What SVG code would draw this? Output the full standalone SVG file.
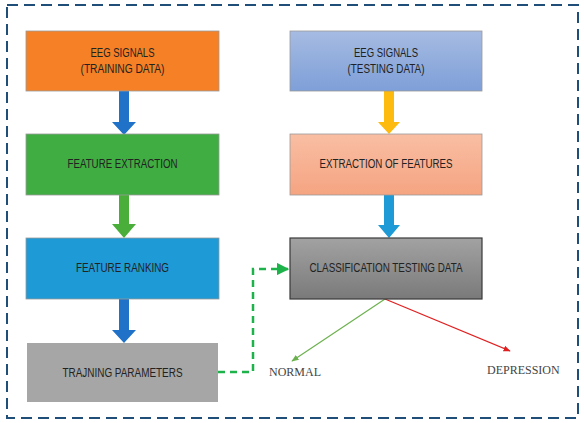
<svg xmlns="http://www.w3.org/2000/svg" width="584" height="423" viewBox="0 0 584 423">
<style>
.box{stroke:#9a9a9a;stroke-width:0.8}
.t{font-family:"Liberation Sans",Arial,sans-serif;font-size:12px;fill:#222;text-anchor:middle}
.o{font-family:"Liberation Serif","Times New Roman",serif;font-size:12px;fill:#444}
</style>
<defs>
<linearGradient id="gBlue" x1="0" y1="0" x2="0" y2="1"><stop offset="0" stop-color="#a6bbe2"/><stop offset="1" stop-color="#7e9fd8"/></linearGradient>
<linearGradient id="gSalmon" x1="0" y1="0" x2="0" y2="1"><stop offset="0" stop-color="#f9bea3"/><stop offset="1" stop-color="#f5a481"/></linearGradient>
<linearGradient id="gGray" x1="0" y1="0" x2="0" y2="1"><stop offset="0" stop-color="#a2a2a2"/><stop offset="1" stop-color="#7a7a7a"/></linearGradient>
<marker id="mG" viewBox="0 0 10 10" refX="9" refY="5" markerWidth="5" markerHeight="5" orient="auto"><path d="M0,0L10,5L0,10z" fill="#1db34a"/></marker>
<marker id="mL" viewBox="0 0 10 10" refX="9" refY="5" markerWidth="6" markerHeight="6" orient="auto"><path d="M0,1L10,5L0,9z" fill="#6ab04c"/></marker>
<marker id="mR" viewBox="0 0 10 10" refX="9" refY="5" markerWidth="6" markerHeight="6" orient="auto"><path d="M0,1L10,5L0,9z" fill="#e02020"/></marker>
</defs>
<rect x="7" y="5" width="571" height="413" fill="none" stroke="#1f4e79" stroke-width="2" stroke-dasharray="11 6"/>
<g id="connectors">
<path d="M119,91V122H112L124,135L136,122H129V91z" fill="#1f72c8"/>
<path d="M119,195V224H112L124,238L136,224H129V195z" fill="#4aae3a"/>
<path d="M119,299V330H112L124,343L136,330H129V299z" fill="#1f72c8"/>
<path d="M384,91V122H378L389,134L400,122H394V91z" fill="#fdbb10"/>
<path d="M384,195V225H378L389,238L400,225H394V195z" fill="#1e9ad6"/>
<path d="M218,372H253V269H288" fill="none" stroke="#1db34a" stroke-width="2.5" stroke-dasharray="7 5" marker-end="url(#mG)"/>
<line x1="385" y1="299" x2="292" y2="361" stroke="#6ab04c" stroke-width="1.2" marker-end="url(#mL)"/>
<line x1="385" y1="299" x2="510" y2="351" stroke="#e02020" stroke-width="1.2" marker-end="url(#mR)"/>
</g>
<g id="train-eeg"><rect class="box" x="26" y="31" width="193" height="60" fill="#f58025"/><text class="t" x="122.5" y="57" textLength="64" lengthAdjust="spacingAndGlyphs">EEG SIGNALS</text><text class="t" x="122.5" y="73" textLength="84" lengthAdjust="spacingAndGlyphs">(TRAINING DATA)</text></g>
<g id="feature-extraction"><rect class="box" x="26" y="134" width="193" height="61" fill="#40ad42"/><text class="t" x="122.5" y="168" textLength="110" lengthAdjust="spacingAndGlyphs">FEATURE EXTRACTION</text></g>
<g id="feature-ranking"><rect class="box" x="26" y="238" width="193" height="61" fill="#1e9ad6"/><text class="t" x="122.5" y="272" textLength="93" lengthAdjust="spacingAndGlyphs">FEATURE RANKING</text></g>
<g id="training-params"><rect x="27" y="343" width="191" height="59" fill="#a6a6a6"/><text class="t" x="122.5" y="377" textLength="120" lengthAdjust="spacingAndGlyphs">TRAJNING PARAMETERS</text></g>
<g id="test-eeg"><rect class="box" x="290" y="31" width="192" height="60" fill="url(#gBlue)"/><text class="t" x="386" y="57" textLength="64" lengthAdjust="spacingAndGlyphs">EEG SIGNALS</text><text class="t" x="386" y="73" textLength="77" lengthAdjust="spacingAndGlyphs">(TESTING DATA)</text></g>
<g id="extraction-features"><rect class="box" x="290" y="134" width="192" height="61" fill="url(#gSalmon)"/><text class="t" x="386" y="168" textLength="133" lengthAdjust="spacingAndGlyphs">EXTRACTION OF FEATURES</text></g>
<g id="classification"><rect x="290" y="238" width="192" height="61" fill="url(#gGray)" stroke="#3a3a3a" stroke-width="1.2"/><text class="t" x="386" y="272" textLength="153" lengthAdjust="spacingAndGlyphs">CLASSIFICATION TESTING DATA</text></g>
<g id="normal"><text class="o" x="269" y="376">NORMAL</text></g>
<g id="depression"><text class="o" x="487" y="374">DEPRESSION</text></g>
</svg>
